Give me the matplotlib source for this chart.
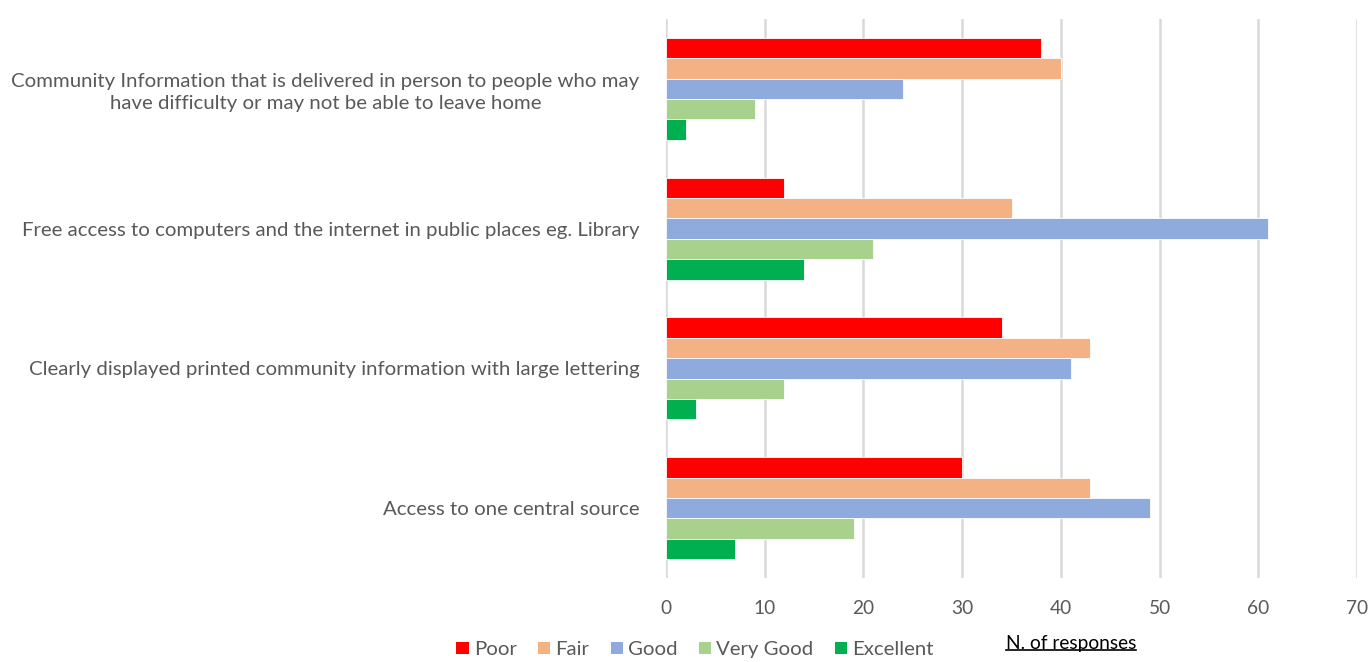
import numpy as np
import matplotlib
matplotlib.use("Agg")
import matplotlib.pyplot as plt
from matplotlib.patches import Patch
from matplotlib.lines import Line2D

# categories top to bottom
categories = [
    "Community Information that is delivered in person to people who may\nhave difficulty or may not be able to leave home",
    "Free access to computers and the internet in public places eg. Library",
    "Clearly displayed printed community information with large lettering",
    "Access to one central source",
]
series = ["Poor", "Fair", "Good", "Very Good", "Excellent"]
poor = [38, 12, 34, 30]
fair = [40, 35, 43, 43]
good = [24, 61, 41, 49]
very_good = [9, 21, 12, 19]
excellent = [2, 14, 3, 7]
colors = ["#FF0000", "#F4B183", "#8FAADC", "#A9D18E", "#00B050"]
xticks = [0, 10, 20, 30, 40, 50, 60, 70]

plt.rcParams['font.family'] = ['Lato', 'DejaVu Sans']
grey = "#595959"

fig = plt.figure(figsize=(13.72, 6.62), dpi=100)
ax = fig.add_axes([666 / 1372, 1 - 578 / 662, 691 / 1372, 559 / 662])

values = [poor, fair, good, very_good, excellent]
n = len(series)
group = 0.73
h = group / n
y = np.arange(len(categories))
for i, (vals, c) in enumerate(zip(values, colors)):
    offs = -group / 2 + h * (i + 0.5)
    ax.barh(y + offs, vals, height=h, color=c, edgecolor="white", linewidth=0.6, zorder=3)

ax.set_ylim(len(categories) - 0.5, -0.5)
ax.set_xlim(0, 70)
ax.set_xticks(xticks)
ax.set_yticks(y)
ax.set_yticklabels(categories, fontsize=14.7, color=grey, multialignment="center",
                   linespacing=1.35)
ax.tick_params(axis="both", length=0, colors=grey)
ax.tick_params(axis="x", labelsize=13.8, pad=16)
ax.tick_params(axis="y", pad=19)
for s in ax.spines.values():
    s.set_visible(False)
ax.xaxis.grid(True, color="#d9d9d9", linewidth=1.8, zorder=0)
ax.set_axisbelow(True)

handles = [Patch(facecolor=c, label=s) for s, c in zip(series, colors)]
fig.legend(handles=handles, loc="lower left", bbox_to_anchor=(438 / 1372, -0.022), ncol=5,
           frameon=False, fontsize=14.7, handlelength=0.6, handleheight=0.6,
           handletextpad=0.25, columnspacing=1.05, labelcolor=grey)

t = fig.text(1071 / 1372, 1 - 643 / 662, "N. of responses", ha="center", va="center",
             fontsize=13.8, color="#000000")
fig.canvas.draw()
bb = t.get_window_extent().transformed(fig.transFigure.inverted())
fig.add_artist(Line2D([bb.x0, bb.x1], [bb.y0 + 0.002, bb.y0 + 0.002], color="black",
                      linewidth=1.2, transform=fig.transFigure))

fig.savefig("out.png", dpi=100)
